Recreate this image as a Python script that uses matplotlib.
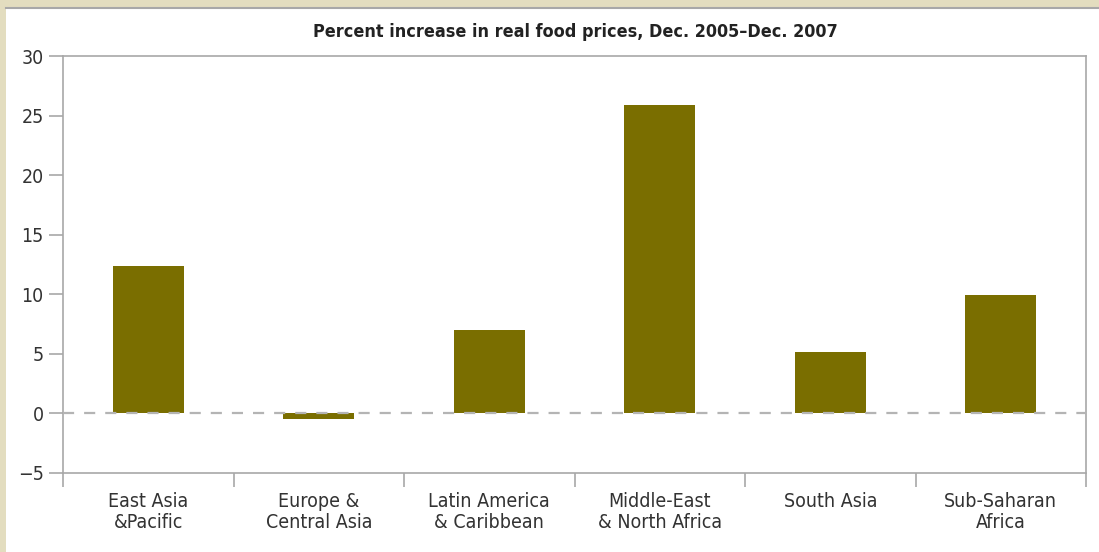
import matplotlib.pyplot as plt
from matplotlib.patches import Rectangle
from matplotlib.lines import Line2D

regions = ["East Asia\n&Pacific", "Europe &\nCentral Asia", "Latin America\n& Caribbean",
           "Middle-East\n& North Africa", "South Asia", "Sub-Saharan\nAfrica"]
increase = [12.4, -0.5, 7.0, 25.9, 5.1, 9.9]
yticks = [-5, 0, 5, 10, 15, 20, 25, 30]

plt.rcParams['font.family'] = ['DejaVu Sans']
plt.rcParams['font.stretch'] = 'condensed'

fig = plt.figure(figsize=(10.99, 5.52), dpi=100)
fig.patch.set_facecolor('white')

# beige frame strips at top and left
fig.patches.append(Rectangle((0, 1 - 7 / 552), 1, 7 / 552, transform=fig.transFigure,
                             facecolor='#e3ddbf', edgecolor='none', zorder=0))
fig.patches.append(Rectangle((0, 0), 6 / 1099, 1, transform=fig.transFigure,
                             facecolor='#e3ddbf', edgecolor='none', zorder=0))
fig.lines.append(Line2D([6 / 1099, 1], [1 - 8 / 552, 1 - 8 / 552], transform=fig.transFigure,
                        color='#a8a8a8', lw=1.5))

ax = fig.add_axes([63 / 1099, 1 - 472.7 / 552, (1086 - 63) / 1099, (472.7 - 56) / 552])
x = list(range(len(regions)))
ax.bar(x, increase, width=0.415, color='#7a6e00', zorder=2)
ax.axhline(0, color='#b4b4b4', lw=1.6, linestyle=(0, (5, 4.5)), zorder=3)

ax.set_xlim(-0.5, len(regions) - 0.5)
ax.set_ylim(-5, 30)
ax.set_yticks(yticks)
ax.set_yticklabels([str(v).replace('-', '\u2212') for v in yticks], fontsize=14, color='#333333')
ax.set_xticks(x)
ax.set_xticklabels(regions, fontsize=14, color='#333333', linespacing=1.15)
ax.set_xticks([i - 0.5 for i in range(len(regions) + 1)], minor=True)
ax.tick_params(axis='x', which='major', length=0, pad=14)
ax.tick_params(axis='x', which='minor', length=10, width=1.2, color='#a8a8a8', direction='out')
ax.tick_params(axis='y', length=10, width=1.2, color='#a8a8a8', pad=4)

for s in ax.spines.values():
    s.set_color('#a8a8a8')
    s.set_linewidth(1.2)

fig.text(575 / 1099, 1 - 32 / 552, "Percent increase in real food prices, Dec. 2005\u2013Dec. 2007",
         ha='center', va='center', fontsize=12.9, fontweight='bold', color='#222222')

fig.savefig('out.png', dpi=100)
